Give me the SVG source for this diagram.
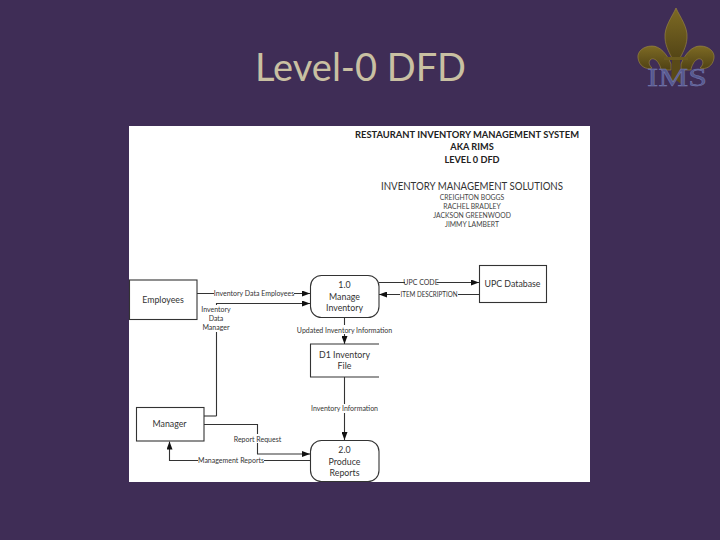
<svg xmlns="http://www.w3.org/2000/svg" width="720" height="540" viewBox="0 0 720 540">
<style>
text{font-family:"Lato","Open Sans","Liberation Sans",sans-serif;fill:#333;text-anchor:middle}
.n{font-size:8.800px}
.l{font-size:7px}
.h{font-size:9.200px;font-weight:bold;fill:#222}
.s{font-size:6.800px;fill:#444}
.box{fill:#fff;stroke:#333;stroke-width:1.1}
.c{fill:none;stroke:#333;stroke-width:1.1;marker-end:url(#a)}
.p{fill:none;stroke:#333;stroke-width:1.1}
.bg{fill:#fff}
</style>
<defs>
<marker id="a" markerUnits="userSpaceOnUse" markerWidth="8" markerHeight="6" refX="8" refY="3" orient="auto"><path d="M0 0L8 3L0 6z" fill="#111"/></marker>
<linearGradient id="g" x1="0" y1="0" x2="0" y2="1"><stop offset="0" stop-color="#7d6a24"/><stop offset="1" stop-color="#4f4114"/></linearGradient>
</defs>
<rect width="720" height="540" fill="#3f2d56"/>
<text x="360.500" y="80.500" style="font-size:38px;fill:#c9c0a2">Level-0 DFD</text>
<g id="logo">
<path d="M676 8C672 17 664 27 665 38C665.500 47 670 54 673 60L673 64L679 64L679 60C682 54 686.500 47 687 38C688 27 680 17 676 8Z" fill="url(#g)" stroke="#a08c45" stroke-width=".6"/>
<path d="M671 64C667 54 660 46 652 46C643 46 637 52 638 58C639 66 646 70 652 68C650 66 648 63 650 60C653 57 657 60 659 64C660 66 661 68 661 70L671 70Z" fill="url(#g)" stroke="#a08c45" stroke-width=".6"/>
<path d="M681 64C685 54 692 46 700 46C709 46 715 52 714 58C713 66 706 70 700 68C702 66 704 63 702 60C699 57 695 60 693 64C692 66 691 68 691 70L681 70Z" fill="url(#g)" stroke="#a08c45" stroke-width=".6"/>
<rect x="664" y="57" width="24" height="3" fill="#6a5a1e"/>
<path d="M672 60L680 60L681 84L676 80L671 84Z" fill="#5a4a18"/>
<text x="677" y="86" style="font-family:'Liberation Serif',serif;font-size:26px;fill:#56598f;stroke:#7b7fb4;stroke-width:.4" textLength="60" lengthAdjust="spacingAndGlyphs">IMS</text>
</g>
<rect x="129" y="126" width="461" height="356" fill="#fff"/>
<g id="heading">
<text class="h" x="467" y="137.500" textLength="224" lengthAdjust="spacingAndGlyphs">RESTAURANT INVENTORY MANAGEMENT SYSTEM</text>
<text class="h" x="472" y="150">AKA RIMS</text>
<text class="h" x="472" y="163">LEVEL 0 DFD</text>
<text x="472" y="189.500" style="font-size:10.800px" textLength="182" lengthAdjust="spacingAndGlyphs">INVENTORY MANAGEMENT SOLUTIONS</text>
<text class="s" x="472" y="200">CREIGHTON BOGGS</text>
<text class="s" x="472" y="209">RACHEL BRADLEY</text>
<text class="s" x="472" y="218">JACKSON GREENWOOD</text>
<text class="s" x="472" y="227">JIMMY LAMBERT</text>
</g>
<g id="connectors">
<path class="c" d="M197 293.500H310"/>
<path class="c" d="M216.500 416V303.500H310"/>
<path class="p" d="M204 416H216.500"/>
<path class="c" d="M379 282.500H479"/>
<path class="c" d="M479 294.500H379"/>
<path class="c" d="M344.500 317.500V344"/>
<path class="c" d="M344.500 377V440"/>
<path class="c" d="M204 424.500H257.500V454H310"/>
<path class="c" d="M310 460.500H169.500V441.500"/>
<rect class="bg" x="214" y="289" width="80" height="9"/>
<text class="l" x="254" y="295.500">Inventory Data Employees</text>
<rect class="bg" x="201" y="305" width="30" height="27"/>
<text class="l" x="216" y="312">Inventory</text>
<text class="l" x="216" y="321">Data</text>
<text class="l" x="216" y="330">Manager</text>
<rect class="bg" x="405" y="278" width="32" height="9"/>
<text class="l" x="421" y="285">UPC CODE</text>
<rect class="bg" x="400" y="290" width="58" height="9"/>
<text class="l" x="429" y="297" textLength="57" lengthAdjust="spacingAndGlyphs">ITEM DESCRIPTION</text>
<rect class="bg" x="297" y="325" width="95" height="9"/>
<text class="l" x="344.500" y="332.500">Updated Inventory Information</text>
<rect class="bg" x="311" y="404" width="67" height="9"/>
<text class="l" x="344.500" y="411">Inventory Information</text>
<rect class="bg" x="234" y="434" width="47" height="9"/>
<text class="l" x="257.500" y="441.500">Report Request</text>
<rect class="bg" x="198" y="456" width="66" height="9"/>
<text class="l" x="231" y="463">Management Reports</text>
</g>
<g id="employees"><rect class="box" x="129.500" y="280" width="67.500" height="39.500"/><text class="n" x="163" y="302.500">Employees</text></g>
<g id="manage"><rect class="box" x="310.500" y="275.500" width="68.500" height="42" rx="11"/><text class="n" x="344.500" y="288">1.0</text><text class="n" x="344.500" y="299.500">Manage</text><text class="n" x="344.500" y="311">Inventory</text></g>
<g id="upc"><rect class="box" x="479.500" y="265.500" width="67" height="37"/><text class="n" x="512.500" y="287">UPC Database</text></g>
<g id="d1"><path class="p" d="M379 344H310.500V377H379"/><text class="n" x="344.500" y="358">D1 Inventory</text><text class="n" x="344.500" y="369">File</text></g>
<g id="manager"><rect class="box" x="136.500" y="407.500" width="67.500" height="33.500"/><text class="n" x="169.500" y="427">Manager</text></g>
<g id="produce"><rect class="box" x="310.500" y="440.500" width="68.500" height="41" rx="11"/><text class="n" x="344.500" y="453">2.0</text><text class="n" x="344.500" y="464.500">Produce</text><text class="n" x="344.500" y="475.500">Reports</text></g>
</svg>
